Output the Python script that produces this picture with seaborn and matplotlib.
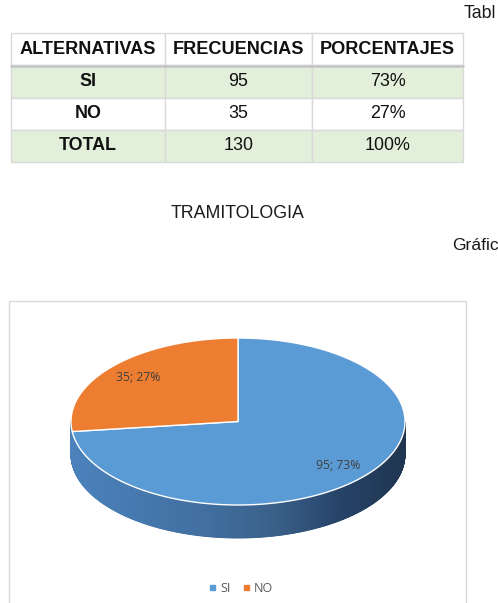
import numpy as np
import matplotlib
matplotlib.use("Agg")
import matplotlib.pyplot as plt
import seaborn as sns
from matplotlib.patches import Polygon, Rectangle
from matplotlib.lines import Line2D
from matplotlib.colors import LinearSegmentedColormap

# ---------------- data ----------------
headers = ["ALTERNATIVAS", "FRECUENCIAS", "PORCENTAJES"]
alternativas = ["SI", "NO"]
frecuencias = [95, 35]
porcentajes = ["73%", "27%"]
total_label = "TOTAL"
total_freq = 130
total_pct = "100%"
title = "TRAMITOLOGIA"
caption_table = "Tabl"
caption_chart = "Gráfic"

# ---------------- style ----------------
sns.set_style("white")
plt.rcParams['font.family'] = ['Liberation Sans', 'DejaVu Sans']
palette = sns.color_palette(["#5B9BD5", "#ED7D31"])

W, H = 498, 603
fig = plt.figure(figsize=(W / 100, H / 100), dpi=100)
ax = fig.add_axes([0, 0, 1, 1])
ax.set_xlim(0, W)
ax.set_ylim(H, 0)
ax.axis('off')

# ---------------- captions ----------------
ax.text(464, 14, caption_table, fontsize=12.8, color="#1a1a1a", ha="left", va="center")
ax.text(238, 213, title, fontsize=12.8, color="#1a1a1a", ha="center", va="center")
ax.text(452, 245, caption_chart, fontsize=12.6, color="#1a1a1a", ha="left", va="center")

# ---------------- table ----------------
tx0, tx1, ty0, ty1 = 11, 463, 33, 162
col_w = np.array([154, 147, 151], float)
rows = [headers]
for a, f, p in zip(alternativas, frecuencias, porcentajes):
    rows.append([a, str(f), p])
rows.append([total_label, str(total_freq), total_pct])
green = "#E2EFDA"
fills = ["white", green, "white", green]
cell_colours = [[c] * 3 for c in fills]
tbl = ax.table(cellText=rows, cellColours=cell_colours, cellLoc="center",
               colWidths=list(col_w / W),
               bbox=[tx0 / W, 1 - ty1 / H, (tx1 - tx0) / W, (ty1 - ty0) / H])
tbl.auto_set_font_size(False)
for (r, c), cell in tbl.get_celld().items():
    cell.set_edgecolor("#D9D9D9")
    cell.set_linewidth(1.0)
    t = cell.get_text()
    t.set_fontsize(13.1 if r == 0 else 12.9)
    t.set_color("#111111")
    t.set_fontfamily(['Liberation Sans', 'DejaVu Sans'])
    if r == 0 or c == 0:
        t.set_fontweight("bold")
ax.plot([tx0, tx1], [65.5, 65.5], color="#C4C4C4", lw=1.8, zorder=5)

# ---------------- chart frame ----------------
ax.add_patch(Rectangle((9, 301), 457, 330, fill=False, edgecolor="#D9D9D9", lw=1.0, zorder=1))

# ---------------- 3D pie ----------------
cx, cy, rx, ry, depth = 238, 421.5, 167, 83.5, 33
vals = np.array(frecuencias, float)
fracs = vals / vals.sum()

def ell(theta_deg, dy=0.0):
    t = np.radians(theta_deg)
    return cx + rx * np.cos(t), cy - ry * np.sin(t) + dy

side_cmap = LinearSegmentedColormap.from_list(
    "side", [(0.0, "#4B82BC"), (0.4, "#416FA0"), (0.62, "#395F88"),
             (0.8, "#27446A"), (1.0, "#1F3550")])

start = 90.0
slices = []
a_hi = start
for f in fracs:
    a_lo = a_hi - 360 * f
    slices.append((a_lo, a_hi))
    a_hi = a_lo

# side wall (front part only), drawn as one shaded body as in the reference
for i, (a_lo, a_hi) in enumerate(slices):
    th = np.linspace(a_lo, a_hi, 900)
    for k in range(len(th) - 1):
        mid = 0.5 * (th[k] + th[k + 1])
        if np.sin(np.radians(mid)) >= 0:
            continue
        x1, y1 = ell(th[k])
        x2, y2 = ell(th[k + 1])
        tpos = ((0.5 * (x1 + x2)) - (cx - rx)) / (2 * rx)
        col = side_cmap(np.clip(tpos, 0, 1))
        ax.add_patch(Polygon([(x1, y1), (x2, y2), (x2, y2 + depth), (x1, y1 + depth)],
                             closed=True, facecolor=col, edgecolor=col, lw=0.6, zorder=2))

# top faces
for i, (a_lo, a_hi) in enumerate(slices):
    th = np.linspace(a_lo, a_hi, 400)
    pts = [(cx, cy)] + [ell(t) for t in th]
    ax.add_patch(Polygon(pts, closed=True, facecolor=palette[i], edgecolor="white",
                         lw=1.0, joinstyle="round", zorder=3))

# data labels
for i, (a_lo, a_hi) in enumerate(slices):
    mid = np.radians(0.5 * (a_lo + a_hi))
    lx = cx + 0.8 * rx * np.cos(mid)
    ly = cy - 0.8 * ry * np.sin(mid)
    ax.text(lx, ly, f"{frecuencias[i]}; {porcentajes[i]}", fontsize=8.8, color="#404040",
            ha="center", va="center", family=["Open Sans", "DejaVu Sans"], zorder=4)

# legend
handles = [Line2D([0], [0], marker="s", linestyle="none", markersize=3.6,
                  markerfacecolor=palette[i], markeredgecolor=palette[i], label=alternativas[i])
           for i in range(len(alternativas))]
leg = ax.legend(handles=handles, loc="center", bbox_to_anchor=(241 / W, 1 - 588 / H),
                ncol=2, frameon=False, handlelength=0.6, handletextpad=0.35,
                columnspacing=0.9, prop={"family": ["Open Sans", "DejaVu Sans"], "size": 9.0})
for t in leg.get_texts():
    t.set_color("#595959")

fig.savefig("out.png", dpi=100, facecolor="white")
